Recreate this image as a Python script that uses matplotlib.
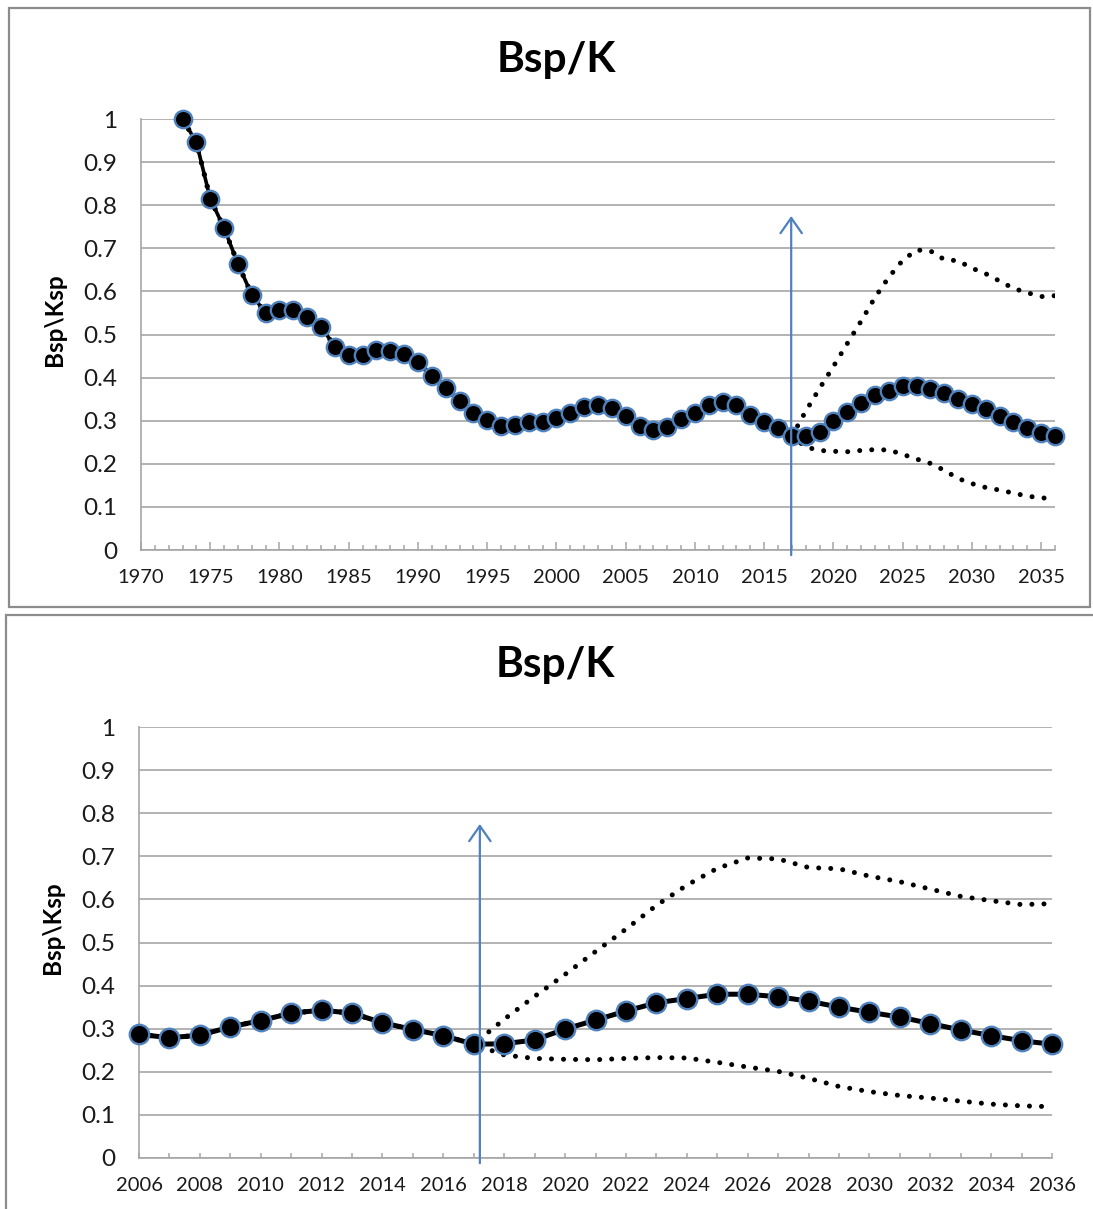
import numpy as np
import matplotlib.pyplot as plt
from matplotlib.patches import Rectangle

plt.rcParams['font.family'] = ['Lato', 'DejaVu Sans']

# Bsp/K series, 1973-2036
years = list(range(1973, 2037))
bsp_k = [1.000, 0.946, 0.815, 0.747, 0.664, 0.592, 0.550, 0.556, 0.558, 0.541,
         0.518, 0.472, 0.453, 0.452, 0.464, 0.462, 0.455, 0.437, 0.403, 0.375,
         0.345, 0.317, 0.302, 0.287, 0.290, 0.298, 0.298, 0.306, 0.319, 0.331,
         0.337, 0.329, 0.311, 0.287, 0.279, 0.285, 0.304, 0.319, 0.336, 0.343,
         0.336, 0.314, 0.298, 0.284, 0.264, 0.265, 0.274, 0.299, 0.320, 0.341,
         0.360, 0.370, 0.380, 0.380, 0.374, 0.364, 0.350, 0.338, 0.327, 0.312,
         0.297, 0.284, 0.272, 0.264]

# high / low scenarios after 2017 (identical to the base series before)
split_year = 2017
upper_tail = [0.322, 0.375, 0.426, 0.479, 0.531, 0.586, 0.633, 0.672, 0.696, 0.694,
              0.674, 0.671, 0.654, 0.641, 0.624, 0.607, 0.597, 0.588, 0.590]
lower_tail = [0.239, 0.231, 0.229, 0.228, 0.231, 0.233, 0.232, 0.222, 0.211, 0.201,
              0.185, 0.166, 0.154, 0.145, 0.139, 0.132, 0.125, 0.121, 0.119]

n_hist = split_year - years[0] + 1
upper = bsp_k[:n_hist] + upper_tail
lower = bsp_k[:n_hist] + lower_tail

title = 'Bsp/K'
ylabel = 'Bsp\\Ksp'

W, H = 1093, 1209
fig = plt.figure(figsize=(W / 100, H / 100), dpi=100)

BLUE = '#4F81BD'
GRID = '#A5A5A5'


def px(x0, y0, x1, y1):
    # pixel box -> figure fraction [left, bottom, width, height]
    return [x0 / W, 1 - y1 / H, (x1 - x0) / W, (y1 - y0) / H]


def panel(box, x0, x1, major, minor, ms, lw, arrow_x, major_len):
    ax = fig.add_axes(px(*box))
    yrs = np.array(years)
    m = (yrs >= x0)
    xs = yrs[m]
    ax.plot(xs, np.array(bsp_k)[m], color='black', lw=lw, zorder=3)
    for s in (upper, lower):
        ax.plot(xs, np.array(s)[m], color='black', lw=3.6,
                linestyle=(0, (0.01, 2.4)), dash_capstyle='round', zorder=4)
    ax.plot(xs, np.array(bsp_k)[m], linestyle='none', marker='o', ms=ms,
            mfc='black', mec=BLUE, mew=1.7, zorder=5, clip_on=False)
    ax.annotate('', xy=(arrow_x, 0.775), xytext=(arrow_x, -0.012),
                annotation_clip=False,
                arrowprops=dict(arrowstyle='->,head_length=0.5,head_width=0.35',
                                color=BLUE, lw=1.6, mutation_scale=22,
                                shrinkA=0, shrinkB=0), zorder=6)
    ax.set_xlim(x0, x1)
    ax.set_ylim(0, 1)
    ax.set_yticks(np.arange(0, 11) / 10)
    ax.set_yticklabels(['0'] + [f'{v / 10:g}' for v in range(1, 10)] + ['1'])
    ax.set_xticks(np.arange(x0, x1 + 1, major))
    ax.set_xticks(np.arange(x0, x1 + 1, minor), minor=True)
    ax.grid(axis='y', color=GRID, lw=1.2)
    ax.set_axisbelow(True)
    for side in ('top', 'right'):
        ax.spines[side].set_visible(False)
    for side in ('left', 'bottom'):
        ax.spines[side].set_color(GRID)
        ax.spines[side].set_linewidth(1.2)
    ax.tick_params(axis='y', length=0, pad=17, labelsize=17.5, labelcolor='#1a1a1a')
    ax.tick_params(axis='x', which='major', direction='in', length=major_len,
                   color=GRID, width=1.1, pad=14, labelsize=14.5, labelcolor='#1a1a1a')
    ax.tick_params(axis='x', which='minor', direction='in', length=3.5,
                   color=GRID, width=1.1)
    return ax


panel((141, 119, 1055, 550), 1970, 2036, 5, 1, 12.5, 2.6, 2016.95, 6)
panel((139, 727, 1052, 1158), 2006, 2036, 2, 1, 14, 3.6, 2017.2, 3.5)

# titles and axis labels
fig.text(556 / W, 1 - 60 / H, title, ha='center', va='center',
         fontsize=30.5, fontweight='bold')
fig.text(555 / W, 1 - 665 / H, title, ha='center', va='center',
         fontsize=30.5, fontweight='bold')
fig.text(55 / W, 1 - 320 / H, ylabel, rotation=90, ha='center', va='center',
         fontsize=17.5, fontweight='bold')
fig.text(52 / W, 1 - 928 / H, ylabel, rotation=90, ha='center', va='center',
         fontsize=17.5, fontweight='bold')

# chart area frames
for x0, y0, x1, y1 in [(9, 8, 1090, 607), (6, 615, 1110, 1230)]:
    fig.patches.append(Rectangle((x0 / W, 1 - y1 / H), (x1 - x0) / W, (y1 - y0) / H,
                                 transform=fig.transFigure, fill=False,
                                 edgecolor='#8C8C8C', lw=1.6))

fig.savefig('out.png', dpi=100)
